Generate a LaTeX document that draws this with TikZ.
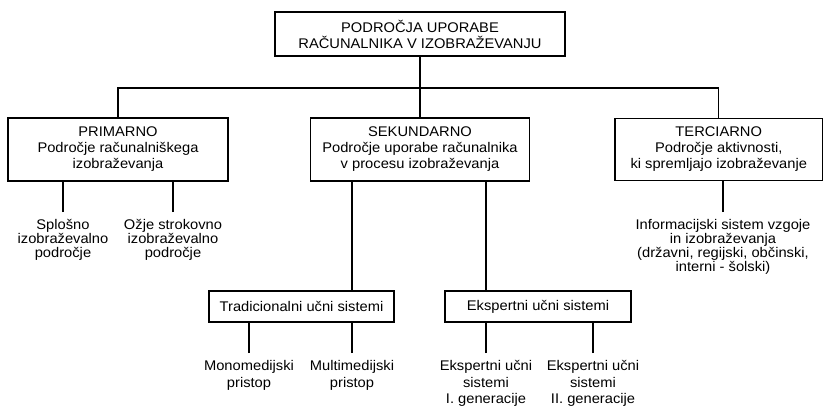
\documentclass[tikz,border=0pt]{standalone}
\usepackage{fontspec}
\setmainfont{Liberation Sans}[FakeStretch=1.05]
\begin{document}
\begin{tikzpicture}[x=1pt,y=-1pt,line width=1.2pt,
  box/.style={draw,align=center,inner sep=0pt,font={\fontsize{14}{16}\selectfont}},
  leaf/.style={align=center,inner xsep=0pt,inner ysep=7pt,anchor=north,font={\fontsize{14}{14}\selectfont}},
  leafb/.style={leaf,font={\fontsize{14}{16.5}\selectfont}}]%
\useasboundingbox (0,0) rectangle (823,407);%
%
\node[box,minimum width=290pt,minimum height=44pt] (root) at (420,34) {PODROČJA UPORABE\\RAČUNALNIKA V IZOBRAŽEVANJU};%
\coordinate (bus) at (420,88);%
%
\node[box,minimum width=220pt,minimum height=63pt] (prim) at (118,149.5) {PRIMARNO\\Področje računalniškega\\izobraževanja};%
\node[box,minimum width=219pt,minimum height=63pt] (sek) at (420,149.5) {SEKUNDARNO\\Področje uporabe računalnika\\v procesu izobraževanja};%
\node[box,minimum width=207.5pt,minimum height=62pt] (terc) at (718.75,149.5) {TERCIARNO\\Področje aktivnosti,\\ki spremljajo izobraževanje};%
%
\node[leaf] (splosno) at (63,212) {Splošno\\izobraževalno\\področje};%
\node[leaf] (ozje) at (173,212) {Ožje strokovno\\izobraževalno\\področje};%
\node[leaf] (info) at (723,212) {Informacijski sistem vzgoje\\in izobraževanja\\(državni, regijski, občinski,\\interni - šolski)};%
%
\node[box,minimum width=185pt,minimum height=31pt] (trad) at (301.5,306.5) {Tradicionalni učni sistemi};%
\node[box,minimum width=186pt,minimum height=31pt] (eksp) at (538,306.5) {Ekspertni učni sistemi};%
%
\node[leafb] (mono) at (249,353) {Monomedijski\\pristop};%
\node[leafb] (multi) at (352,353) {Multimedijski\\pristop};%
\node[leafb] (gen1) at (486,353) {Ekspertni učni\\sistemi\\I. generacije};%
\node[leafb] (gen2) at (593,353) {Ekspertni učni\\sistemi\\II. generacije};%
%
\draw (root.south) -- (sek.north);%
\draw (prim.north) |- (bus) -| (terc.north);%
%
\draw (splosno.north) -- (splosno.north |- prim.south);%
\draw (ozje.north) -- (ozje.north |- prim.south);%
\draw (info.north) -- (info.north |- terc.south);%
\draw (sek.south -| multi.north) -- (trad.north -| multi.north);%
\draw (sek.south -| gen1.north) -- (eksp.north -| gen1.north);%
%
\draw (mono.north) -- (mono.north |- trad.south);%
\draw (multi.north) -- (multi.north |- trad.south);%
\draw (gen1.north) -- (gen1.north |- eksp.south);%
\draw (gen2.north) -- (gen2.north |- eksp.south);%
%
\end{tikzpicture}
\end{document}
